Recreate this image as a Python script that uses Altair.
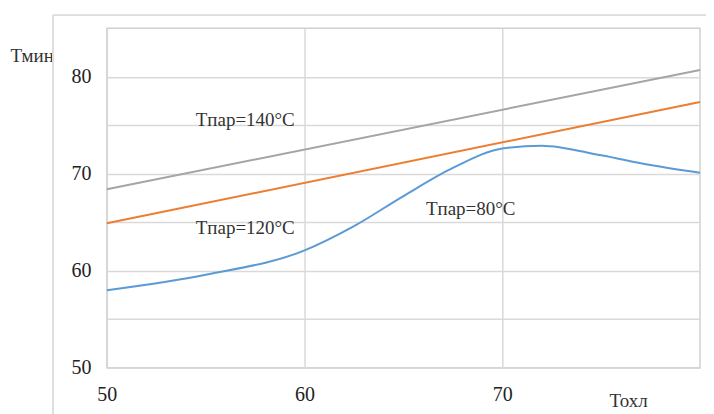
import altair as alt
import pandas as pd

# data
x_line = [50, 80]
t140 = [68.4, 80.7]
t120 = [64.9, 77.4]

x_80 = [50, 55, 60, 62.5, 65, 67.5, 70, 72, 75, 77.5, 80]
t80 = [58.0, 59.6, 62.1, 64.6, 67.7, 70.6, 72.6, 72.9, 71.9, 70.9, 70.1]

lab_text = ["Tпар=140°C", "Tпар=120°C", "Tпар=80°C"]
lab_x = [57.0, 57.0, 68.4]
lab_y = [75.5, 64.4, 66.4]

x_ticks = [50, 60, 70]
y_ticks = [50, 55, 60, 65, 70, 75, 80]

font = "Liberation Serif"

df_lin = pd.DataFrame({
    "x": x_line * 2,
    "y": t140 + t120,
    "s": ["140"] * 2 + ["120"] * 2,
})
df_80 = pd.DataFrame({"x": x_80, "y": t80})
df_lab = pd.DataFrame({"x": lab_x, "y": lab_y, "t": lab_text})

xs = alt.Scale(domain=[50, 80], nice=False, zero=False)
ys = alt.Scale(domain=[50, 85], nice=False, zero=False)

xaxis = alt.Axis(values=x_ticks, title="Тохл", grid=True, domain=False, ticks=False,
                 labelFlush=False,
                 labelFont=font, labelFontSize=20, labelColor="#222", labelPadding=17,
                 titleFont=font, titleFontSize=19, titleFontWeight="normal", titleColor="#333",
                 titleX=522, titleY=33, titleAlign="center", titleBaseline="middle",
                 gridColor="#d9d9d9", gridWidth=1.5)
yaxis = alt.Axis(values=y_ticks, title="Тмин", grid=True, domain=False, ticks=False,
                 labelFlush=False,
                 labelExpr="datum.value % 10 == 0 ? datum.label : ''",
                 labelFont=font, labelFontSize=20, labelColor="#222", labelPadding=16,
                 titleFont=font, titleFontSize=19, titleFontWeight="normal", titleColor="#333",
                 titleAngle=0, titleX=-97, titleY=27, titleAlign="left", titleBaseline="middle",
                 gridColor="#d9d9d9", gridWidth=1.5)

lines = alt.Chart(df_lin).mark_line(strokeWidth=2).encode(
    x=alt.X("x:Q", scale=xs, axis=xaxis),
    y=alt.Y("y:Q", scale=ys, axis=yaxis),
    color=alt.Color("s:N", scale=alt.Scale(domain=["140", "120"], range=["#a5a5a5", "#ed7d31"]), legend=None),
)

line80 = alt.Chart(df_80).mark_line(strokeWidth=2, color="#5b9bd5", interpolate="monotone").encode(
    x=alt.X("x:Q", scale=xs),
    y=alt.Y("y:Q", scale=ys),
)

labels = alt.Chart(df_lab).mark_text(font=font, fontSize=19, color="#333", align="center", baseline="middle").encode(
    x=alt.X("x:Q", scale=xs),
    y=alt.Y("y:Q", scale=ys),
    text="t:N",
)

frame_top = alt.Chart(df_lab).mark_rule(color="#dddddd", strokeWidth=1.5, clip=False).encode(
    x=alt.value(-54), x2=alt.value(610), y=alt.value(-13)
)
frame_left = alt.Chart(df_lab).mark_rule(color="#dddddd", strokeWidth=1.5, clip=False).encode(
    x=alt.value(-54), y=alt.value(-13), y2=alt.value(390)
)

chart = alt.layer(frame_top, frame_left, lines, line80, labels).properties(
    width=594, height=340,
    autosize=alt.AutoSizeParams(type="none"),
    padding={"left": 99, "top": 20, "right": 6, "bottom": 46},
).configure_view(stroke="#d0d0d0", strokeWidth=1.5)

chart.save("out.html", embed_options={"renderer": "svg", "actions": False})
